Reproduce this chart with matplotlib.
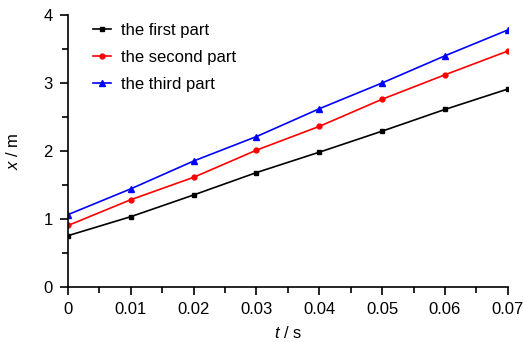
import numpy as np
from matplotlib import pyplot as plt
from matplotlib.ticker import MultipleLocator

t = [0, 0.01, 0.02, 0.03, 0.04, 0.05, 0.06, 0.07]
first_part = [0.75, 1.03, 1.35, 1.68, 1.98, 2.29, 2.61, 2.91]
second_part = [0.90, 1.28, 1.61, 2.01, 2.36, 2.76, 3.12, 3.47]
third_part = [1.06, 1.44, 1.85, 2.21, 2.62, 3.00, 3.40, 3.78]
labels = ["the first part", "the second part", "the third part"]


def main():
    plt.rcParams['font.family'] = ['Liberation Sans', 'DejaVu Sans']
    plt.rcParams['font.size'] = 12
    plt.rcParams['mathtext.fontset'] = 'custom'
    plt.rcParams['mathtext.it'] = 'Liberation Sans:italic'
    plt.rcParams['mathtext.rm'] = 'Liberation Sans'
    fig = plt.figure(figsize=(5.23, 3.42), dpi=100)
    ax = fig.add_axes([0.130, 0.162, 0.841, 0.794])

    ax.plot(t, first_part, color='black', marker='s', markersize=3.5, lw=1.2, label=labels[0])
    ax.plot(t, second_part, color='red', marker='o', markersize=3.5, lw=1.2, label=labels[1])
    ax.plot(t, third_part, color='blue', marker='^', markersize=4.5, lw=1.2, label=labels[2])

    ax.set_xlim(0, 0.07)
    ax.set_ylim(0, 4)
    ax.xaxis.set_minor_locator(MultipleLocator(0.005))
    ax.yaxis.set_major_locator(MultipleLocator(1))
    ax.yaxis.set_minor_locator(MultipleLocator(0.5))
    ax.set_xticks(t)
    ax.set_xticklabels(['0', '0.01', '0.02', '0.03', '0.04', '0.05', '0.06', '0.07'])
    ax.tick_params(which='major', direction='out', length=6, width=1.2, pad=5)
    ax.tick_params(which='minor', direction='out', length=4, width=1.2)
    for side in ['top', 'right']:
        ax.spines[side].set_visible(False)
    for side in ['left', 'bottom']:
        ax.spines[side].set_linewidth(1.2)

    ax.set_xlabel(r"$t$ / s", labelpad=6)
    ax.set_ylabel(r"$x$ / m", labelpad=16)

    ax.legend(loc='upper left', frameon=False, handlelength=1.1, handletextpad=0.6,
              labelspacing=0.72, borderpad=0, borderaxespad=0,
              bbox_to_anchor=(0.057, 0.97))
    fig.savefig('out.png', dpi=100)


if __name__ == "__main__":
    main()
